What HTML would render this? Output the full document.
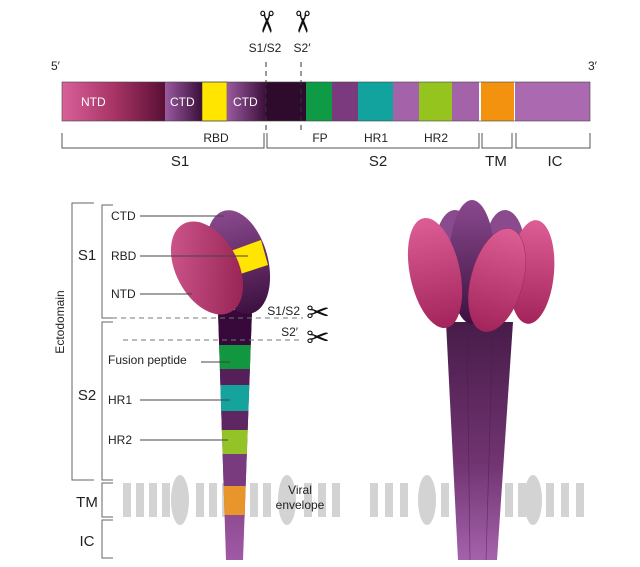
<!DOCTYPE html>
<html><head><meta charset="utf-8"><style>
body{margin:0;background:#fff}
svg{display:block}
text{font-family:"Liberation Sans","DejaVu Sans",sans-serif;fill:#222}
</style></head><body>
<svg width="640" height="567" viewBox="0 0 640 567" xmlns="http://www.w3.org/2000/svg">
<defs>
<linearGradient id="ntd" x1="0" x2="1"><stop offset="0" stop-color="#d9609a"/><stop offset="0.5" stop-color="#a83566"/><stop offset="1" stop-color="#5a0f34"/></linearGradient>
<linearGradient id="ctd" x1="0" x2="1"><stop offset="0" stop-color="#9a5aa0"/><stop offset="1" stop-color="#3b0f3a"/></linearGradient>
<linearGradient id="pink" x1="0" y1="0" x2="0" y2="1"><stop offset="0" stop-color="#dc5e95"/><stop offset="1" stop-color="#a3245a"/></linearGradient>
<linearGradient id="pinkL" x1="0" y1="0" x2="1" y2="1"><stop offset="0" stop-color="#d55c92"/><stop offset="1" stop-color="#8e1c4c"/></linearGradient>
<linearGradient id="purp" x1="0" y1="0" x2="0" y2="1"><stop offset="0" stop-color="#8a4a8e"/><stop offset="1" stop-color="#3d1040"/></linearGradient>
<linearGradient id="stalk" x1="0" y1="0" x2="0" y2="1"><stop offset="0" stop-color="#3d1040"/><stop offset="0.6" stop-color="#6a2a6a"/><stop offset="1" stop-color="#a05aa8"/></linearGradient>
<linearGradient id="stalkL" x1="0" y1="0" x2="0" y2="1"><stop offset="0" stop-color="#3b0e3c"/><stop offset="1" stop-color="#a45ca8"/></linearGradient>
</defs>

<!-- top bar -->
<rect x="62" y="82" width="103" height="39" fill="url(#ntd)"/>
<rect x="165" y="82" width="37" height="39" fill="url(#ctd)"/>
<rect x="202" y="82" width="25" height="39" fill="#ffe500" stroke="#333" stroke-width="0.5"/>
<rect x="227" y="82" width="39" height="39" fill="url(#ctd)"/>
<rect x="266" y="82" width="40" height="39" fill="#2e0b2c"/>
<rect x="306" y="82" width="26" height="39" fill="#0f9a45"/>
<rect x="332" y="82" width="26" height="39" fill="#7b3a7e"/>
<rect x="358" y="82" width="35" height="39" fill="#13a39e"/>
<rect x="393" y="82" width="26" height="39" fill="#a463a8"/>
<rect x="419" y="82" width="33" height="39" fill="#96c41f"/>
<rect x="452" y="82" width="27" height="39" fill="#a463a8"/>
<rect x="481" y="82" width="33" height="39" fill="#f3920f"/>
<rect x="515" y="82" width="75" height="39" fill="#ab69b0"/>
<rect x="62" y="82" width="528" height="39" fill="none" stroke="#444" stroke-width="0.6"/>
<text x="81" y="106" font-size="12" style="fill:#fff">NTD</text>
<text x="170" y="106" font-size="12" style="fill:#fff">CTD</text>
<text x="233" y="106" font-size="12" style="fill:#fff">CTD</text>
<text x="51" y="70" font-size="12">5′</text>
<text x="588" y="70" font-size="12">3′</text>
<g stroke="#333" stroke-dasharray="5,4" stroke-width="1"><line x1="266" y1="62" x2="266" y2="130"/><line x1="301" y1="62" x2="301" y2="130"/></g>
<text x="265" y="31" font-size="30" text-anchor="middle" transform="rotate(90 265 22)" style="fill:#111">✂</text>
<text x="301" y="31" font-size="30" text-anchor="middle" transform="rotate(90 301 22)" style="fill:#111">✂</text>
<text x="265" y="52" font-size="12" text-anchor="middle">S1/S2</text>
<text x="302" y="52" font-size="12" text-anchor="middle">S2′</text>
<g stroke="#555" fill="none" stroke-width="1">
<path d="M62 133V148H264V133"/><path d="M267 133V148H479V133"/><path d="M482 133V148H512V133"/><path d="M516 133V148H590V133"/>
</g>
<g font-size="12" text-anchor="middle"><text x="216" y="142">RBD</text><text x="320" y="142">FP</text><text x="376" y="142">HR1</text><text x="436" y="142">HR2</text></g>
<g font-size="15" text-anchor="middle"><text x="180" y="166">S1</text><text x="378" y="166">S2</text><text x="496" y="166">TM</text><text x="555" y="166">IC</text></g>

<!-- left brackets -->
<g stroke="#666" fill="none" stroke-width="1">
<path d="M94 203H72V480H94"/>
<path d="M113 205H102V318H113"/><path d="M113 322H102V480H113"/>
<path d="M113 483H102V517H113"/><path d="M113 520H102V558H113"/>
</g>
<text x="64" y="322" font-size="12" text-anchor="middle" transform="rotate(-90 64 322)">Ectodomain</text>
<g font-size="15" text-anchor="middle"><text x="87" y="260">S1</text><text x="87" y="400">S2</text><text x="87" y="507">TM</text><text x="87" y="546">IC</text></g>

<!-- membrane left -->
<g fill="#d3d3d3">
<rect x="123" y="483" width="8" height="34"/><rect x="136" y="483" width="8" height="34"/><rect x="149" y="483" width="8" height="34"/><rect x="162" y="483" width="8" height="34"/>
<ellipse cx="180" cy="500" rx="9" ry="25"/>
<rect x="196" y="483" width="8" height="34"/><rect x="209" y="483" width="8" height="34"/><rect x="222" y="483" width="8" height="34"/><rect x="237" y="483" width="8" height="34"/><rect x="250" y="483" width="8" height="34"/><rect x="263" y="483" width="8" height="34"/>
<ellipse cx="287" cy="500" rx="9" ry="25"/>
<rect x="304" y="483" width="8" height="34"/><rect x="318" y="483" width="8" height="34"/><rect x="332" y="483" width="8" height="34"/>
</g>
<text x="300" y="494" font-size="12" text-anchor="middle">Viral</text>
<text x="300" y="509" font-size="12" text-anchor="middle">envelope</text>

<!-- left stalk -->
<clipPath id="sc"><path d="M218 310L252 310L243 560L226 560Z"/></clipPath>
<g clip-path="url(#sc)">
<rect x="210" y="300" width="50" height="270" fill="url(#stalkL)"/>
<rect x="210" y="300" width="50" height="45" fill="#36093a"/>
<rect x="210" y="345" width="50" height="24" fill="#12963f"/>
<rect x="210" y="369" width="50" height="16" fill="#55205a"/>
<rect x="210" y="385" width="50" height="26" fill="#14a39d"/>
<rect x="210" y="411" width="50" height="19" fill="#5e2762"/>
<rect x="210" y="430" width="50" height="24" fill="#93c327"/>
<rect x="210" y="454" width="50" height="32" fill="#7a3a7e"/>
<rect x="210" y="486" width="50" height="29" fill="#e8962c"/>
</g>
<!-- head -->
<ellipse cx="238" cy="262" rx="30" ry="53" fill="url(#purp)" transform="rotate(-15 238 262)"/>
<polygon points="228,252 261,240 268,265 234,276" fill="#ffe500"/>
<ellipse cx="207" cy="268" rx="31" ry="50" fill="url(#pinkL)" transform="rotate(-28 207 268)"/>
<g stroke="#444" stroke-width="1">
<line x1="140" y1="216" x2="224" y2="216"/><line x1="140" y1="256" x2="248" y2="256"/><line x1="140" y1="294" x2="192" y2="294"/>
<line x1="201" y1="362" x2="230" y2="362"/><line x1="140" y1="400" x2="230" y2="400"/><line x1="140" y1="440" x2="228" y2="440"/>
</g>
<g font-size="12"><text x="111" y="220">CTD</text><text x="111" y="260">RBD</text><text x="111" y="298">NTD</text>
<text x="108" y="364">Fusion peptide</text><text x="108" y="404">HR1</text><text x="108" y="444">HR2</text></g>
<g stroke="#777" stroke-dasharray="5,4"><line x1="112" y1="318" x2="303" y2="318"/><line x1="123" y1="340" x2="300" y2="340"/></g>
<text x="300" y="315" font-size="12" text-anchor="end">S1/S2</text>
<text x="298" y="336" font-size="12" text-anchor="end">S2′</text>
<text x="318" y="322" font-size="28" text-anchor="middle" style="fill:#111">✂</text>
<text x="318" y="347" font-size="28" text-anchor="middle" style="fill:#111">✂</text>

<!-- right trimer -->
<g fill="#d3d3d3">
<rect x="370" y="483" width="8" height="34"/><rect x="385" y="483" width="8" height="34"/><rect x="400" y="483" width="8" height="34"/>
<ellipse cx="427" cy="500" rx="9" ry="25"/>
<rect x="441" y="483" width="8" height="34"/><rect x="505" y="483" width="8" height="34"/><rect x="518" y="483" width="8" height="34"/>
<ellipse cx="533" cy="500" rx="9" ry="25"/>
<rect x="546" y="483" width="8" height="34"/><rect x="561" y="483" width="8" height="34"/><rect x="576" y="483" width="8" height="34"/>
</g>
<path d="M446 322L513 322L497 560L458 560Z" fill="url(#stalk)" opacity="0.95"/>
<g stroke="#4a1a4c" stroke-width="0.7" opacity="0.6"><line x1="467" y1="322" x2="470" y2="560"/><line x1="493" y1="322" x2="486" y2="560"/></g>
<ellipse cx="455" cy="250" rx="20" ry="40" fill="#8a4a8e"/>
<ellipse cx="505" cy="250" rx="20" ry="40" fill="#8a4a8e"/>
<ellipse cx="472" cy="262" rx="23" ry="62" fill="url(#purp)"/>
<ellipse cx="532" cy="272" rx="22" ry="52" fill="url(#pink)" transform="rotate(5 532 272)"/>
<ellipse cx="435" cy="273" rx="25" ry="56" fill="url(#pink)" transform="rotate(-12 435 273)"/>
<ellipse cx="497" cy="280" rx="26" ry="53" fill="url(#pink)" stroke="#9a2a5a" stroke-width="0.5" transform="rotate(15 497 280)"/>
</svg>
</body></html>
